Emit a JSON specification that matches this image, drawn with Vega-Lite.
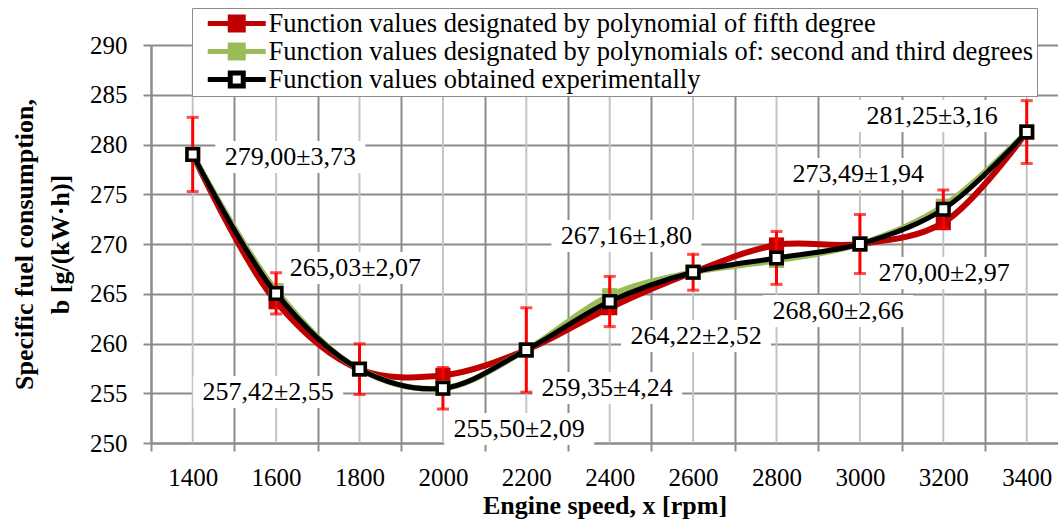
{
  "$schema": "https://vega.github.io/schema/vega-lite/v6.json",
  "width": 907,
  "height": 398,
  "autosize": "none",
  "padding": {"left": 151, "top": 45, "right": 0, "bottom": 80},
  "background": "white",
  "config": {
    "view": {"stroke": null},
    "font": "Liberation Serif, Times New Roman, Times, DejaVu Serif, serif"
  },
  "datasets": {
    "fit": [
      {"speed": 1400, "value": 279.0, "series": "Function values designated by polynomial of fifth degree"},
      {"speed": 1600, "value": 264.2, "series": "Function values designated by polynomial of fifth degree"},
      {"speed": 1800, "value": 257.42, "series": "Function values designated by polynomial of fifth degree"},
      {"speed": 2000, "value": 256.8, "series": "Function values designated by polynomial of fifth degree"},
      {"speed": 2200, "value": 259.35, "series": "Function values designated by polynomial of fifth degree"},
      {"speed": 2400, "value": 263.6, "series": "Function values designated by polynomial of fifth degree"},
      {"speed": 2600, "value": 267.16, "series": "Function values designated by polynomial of fifth degree"},
      {"speed": 2800, "value": 269.9, "series": "Function values designated by polynomial of fifth degree"},
      {"speed": 3000, "value": 270.0, "series": "Function values designated by polynomial of fifth degree"},
      {"speed": 3200, "value": 272.15, "series": "Function values designated by polynomial of fifth degree"},
      {"speed": 3400, "value": 281.25, "series": "Function values designated by polynomial of fifth degree"},
      {"speed": 1400, "value": 279.0, "series": "Function values designated by polynomials of: second and third degrees"},
      {"speed": 1600, "value": 265.3, "series": "Function values designated by polynomials of: second and third degrees"},
      {"speed": 1800, "value": 257.42, "series": "Function values designated by polynomials of: second and third degrees"},
      {"speed": 2000, "value": 255.5, "series": "Function values designated by polynomials of: second and third degrees"},
      {"speed": 2200, "value": 259.35, "series": "Function values designated by polynomials of: second and third degrees"},
      {"speed": 2400, "value": 264.8, "series": "Function values designated by polynomials of: second and third degrees"},
      {"speed": 2600, "value": 267.16, "series": "Function values designated by polynomials of: second and third degrees"},
      {"speed": 2800, "value": 268.35, "series": "Function values designated by polynomials of: second and third degrees"},
      {"speed": 3000, "value": 270.0, "series": "Function values designated by polynomials of: second and third degrees"},
      {"speed": 3200, "value": 273.8, "series": "Function values designated by polynomials of: second and third degrees"},
      {"speed": 3400, "value": 281.25, "series": "Function values designated by polynomials of: second and third degrees"}
    ],
    "exp": [
      {"speed": 1400, "value": 279.00, "err": 3.73, "label": "279,00±3,73", "labelX": 1634, "labelY": 278.74},
      {"speed": 1600, "value": 265.03, "err": 2.07, "label": "265,03±2,07", "labelX": 1790, "labelY": 267.59},
      {"speed": 1800, "value": 257.42, "err": 2.55, "label": "257,42±2,55", "labelX": 1581, "labelY": 255.13},
      {"speed": 2000, "value": 255.50, "err": 2.09, "label": "255,50±2,09", "labelX": 2183, "labelY": 251.4},
      {"speed": 2200, "value": 259.35, "err": 4.24, "label": "259,35±4,24", "labelX": 2394, "labelY": 255.53},
      {"speed": 2400, "value": 264.22, "err": 2.52, "label": "264,22±2,52", "labelX": 2607, "labelY": 260.75},
      {"speed": 2600, "value": 267.16, "err": 1.80, "label": "267,16±1,80", "labelX": 2440, "labelY": 270.8},
      {"speed": 2800, "value": 268.60, "err": 2.66, "label": "268,60±2,66", "labelX": 2948, "labelY": 263.27},
      {"speed": 3000, "value": 270.00, "err": 2.97, "label": "270,00±2,97", "labelX": 3202, "labelY": 267.08},
      {"speed": 3200, "value": 273.49, "err": 1.94, "label": "273,49±1,94", "labelX": 2996, "labelY": 277.04},
      {"speed": 3400, "value": 281.25, "err": 3.16, "label": "281,25±3,16", "labelX": 3173, "labelY": 282.86}
    ]
  },
  "layer": [
    {
      "data": {"name": "exp"},
      "mark": {"type": "rule", "color": "#c4c4c4", "strokeWidth": 2},
      "encoding": {
        "x": {
          "field": "speed", "type": "quantitative", "title": "Engine speed, x [rpm]",
          "scale": {"domain": [1300, 3475], "nice": false, "zero": false},
          "axis": {
            "values": [1300, 1500, 1700, 1900, 2100, 2300, 2500, 2700, 2900, 3100, 3300],
            "labelExpr": "'' + (datum.value + 100)",
            "labelOffset": 41.7,
            "labelFlush": false,
            "labelOverlap": false,
            "grid": true, "gridColor": "#8c8c8c", "gridWidth": 2,
            "domainColor": "#8c8c8c", "domainWidth": 2,
            "tickColor": "#8c8c8c", "tickWidth": 2, "tickSize": 8,
            "labelFont": "Liberation Serif, Times New Roman, Times, DejaVu Serif, serif", "labelFontSize": 25, "labelColor": "black", "labelPadding": 14,
            "titleFont": "Liberation Serif, Times New Roman, Times, DejaVu Serif, serif", "titleFontSize": 26, "titleFontWeight": "bold", "titleColor": "black", "titlePadding": 2
          }
        }
      }
    },
    {
      "data": {"name": "exp"},
      "mark": {"type": "point", "shape": "M-1,-0.2133H1V0.2133H-1Z", "size": 22500, "filled": true, "color": "white", "opacity": 1, "strokeWidth": 0},
      "encoding": {
        "x": {"field": "labelX", "type": "quantitative", "title": "Engine speed, x [rpm]"},
        "y": {
          "field": "labelY", "type": "quantitative", "title": ["Specific fuel consumption,", "b [g/(kW·h)]"],
          "scale": {"domain": [250, 290], "nice": false, "zero": false},
          "axis": {
            "values": [250, 255, 260, 265, 270, 275, 280, 285, 290],
            "grid": true, "gridColor": "#8c8c8c", "gridWidth": 2,
            "domainColor": "#8c8c8c", "domainWidth": 2,
            "tickColor": "#8c8c8c", "tickWidth": 2, "tickSize": 8,
            "labelFont": "Liberation Serif, Times New Roman, Times, DejaVu Serif, serif", "labelFontSize": 25, "labelColor": "black", "labelPadding": 16,
            "titleFont": "Liberation Serif, Times New Roman, Times, DejaVu Serif, serif", "titleFontSize": 26, "titleFontWeight": "bold", "titleColor": "black",
            "titlePadding": 16, "titleLineHeight": 36
          }
        }
      }
    },
    {
      "data": {"name": "fit"},
      "mark": {"type": "line", "interpolate": "catmull-rom", "strokeWidth": 6},
      "encoding": {
        "x": {"field": "speed", "type": "quantitative", "title": "Engine speed, x [rpm]"},
        "y": {"field": "value", "type": "quantitative", "title": ["Specific fuel consumption,", "b [g/(kW·h)]"]},
        "color": {
          "field": "series", "type": "nominal",
          "scale": {
            "domain": ["Function values designated by polynomial of fifth degree", "Function values designated by polynomials of: second and third degrees", "Function values obtained experimentally"],
            "range": ["#C00000", "#9BBB59", "#000000"]
          },
          "legend": {
            "orient": "none", "legendX": 41, "legendY": -37,
            "title": null,
            "symbolType": "M-0.05,0H2.2M3.5,0H5.75M2.2,-0.65H3.5V0.65H2.2Z",
            "symbolSize": 400, "symbolStrokeWidth": 5,
            "labelFont": "Liberation Serif, Times New Roman, Times, DejaVu Serif, serif", "labelFontSize": 26.5, "labelColor": "black",
            "labelOffset": 47, "labelLimit": 0,
            "clipHeight": 25,
            "rowPadding": 1, "padding": 3,
            "fillColor": "white", "strokeColor": "#8c8c8c",
            "encode": {
              "symbols": {
                "update": {
                  "fill": {"signal": "datum.value === 'Function values obtained experimentally' ? 'white' : scale('color', datum.value)"},
                  "stroke": {"signal": "scale('color', datum.value)"},
                  "opacity": {"value": 1},
                  "strokeWidth": {"value": 5}
                }
              }
            }
          }
        }
      }
    },
    {
      "data": {"name": "fit"},
      "transform": [{"filter": {"field": "series", "equal": "Function values designated by polynomial of fifth degree"}}],
      "mark": {"type": "point", "shape": "square", "filled": true, "size": 230, "opacity": 1, "color": "#C00000"},
      "encoding": {
        "x": {"field": "speed", "type": "quantitative", "title": "Engine speed, x [rpm]"},
        "y": {"field": "value", "type": "quantitative", "title": ["Specific fuel consumption,", "b [g/(kW·h)]"]}
      }
    },
    {
      "data": {"name": "fit"},
      "transform": [{"filter": {"field": "series", "equal": "Function values designated by polynomials of: second and third degrees"}}],
      "mark": {"type": "point", "shape": "square", "filled": true, "size": 230, "opacity": 1, "color": "#9BBB59"},
      "encoding": {
        "x": {"field": "speed", "type": "quantitative", "title": "Engine speed, x [rpm]"},
        "y": {"field": "value", "type": "quantitative", "title": ["Specific fuel consumption,", "b [g/(kW·h)]"]}
      }
    },
    {
      "data": {"name": "exp"},
      "mark": {"type": "errorbar", "ticks": {"color": "#FF0000"}, "color": "#FF0000", "thickness": 3, "size": 12},
      "encoding": {
        "x": {"field": "speed", "type": "quantitative", "title": "Engine speed, x [rpm]"},
        "y": {"field": "value", "type": "quantitative", "title": ["Specific fuel consumption,", "b [g/(kW·h)]"]},
        "yError": {"field": "err"}
      }
    },
    {
      "data": {"name": "exp"},
      "mark": {"type": "line", "interpolate": "catmull-rom", "strokeWidth": 5, "color": "black"},
      "encoding": {
        "x": {"field": "speed", "type": "quantitative", "title": "Engine speed, x [rpm]"},
        "y": {"field": "value", "type": "quantitative", "title": ["Specific fuel consumption,", "b [g/(kW·h)]"]}
      }
    },
    {
      "data": {"name": "exp"},
      "mark": {"type": "point", "shape": "square", "filled": true, "fill": "white", "stroke": "black", "strokeWidth": 3.5, "size": 130, "opacity": 1},
      "encoding": {
        "x": {"field": "speed", "type": "quantitative", "title": "Engine speed, x [rpm]"},
        "y": {"field": "value", "type": "quantitative", "title": ["Specific fuel consumption,", "b [g/(kW·h)]"]}
      }
    },
    {
      "data": {"name": "exp"},
      "mark": {"type": "text", "font": "Liberation Serif, Times New Roman, Times, DejaVu Serif, serif", "fontSize": 26, "color": "black", "align": "center", "baseline": "middle"},
      "encoding": {
        "x": {"field": "labelX", "type": "quantitative", "title": "Engine speed, x [rpm]"},
        "y": {"field": "labelY", "type": "quantitative", "title": ["Specific fuel consumption,", "b [g/(kW·h)]"]},
        "text": {"field": "label"}
      }
    }
  ]
}
